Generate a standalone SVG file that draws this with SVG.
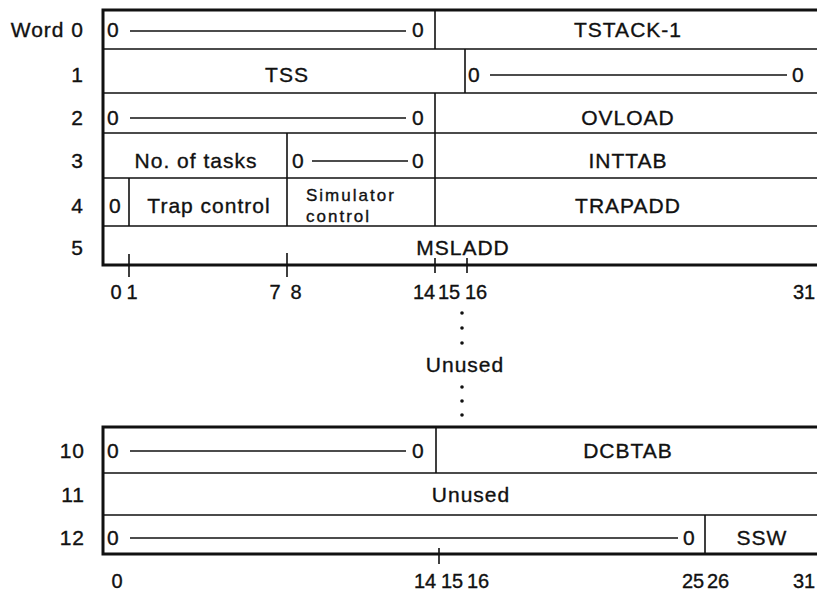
<svg xmlns="http://www.w3.org/2000/svg" width="817" height="593" viewBox="0 0 817 593">
<style>
text{font-family:"Liberation Sans",Arial,sans-serif;font-size:21px;fill:#111;stroke:#111;stroke-width:0.35;letter-spacing:1px}
.m{text-anchor:middle}
.e{text-anchor:end}
.n{font-size:20px;letter-spacing:0;text-anchor:middle}
.sm{font-size:17px;letter-spacing:2px}
.b{fill:none;stroke:#111;stroke-width:3}
.l{stroke:#111;stroke-width:1.6;fill:none}
.d{stroke:#111;stroke-width:1.4}
.dot{fill:#111}
</style>
<rect width="817" height="593" fill="#fff"/>
<g id="labels">
<text class="e" x="84" y="37">Word 0</text>
<text class="e" x="84" y="82">1</text>
<text class="e" x="84" y="125">2</text>
<text class="e" x="84" y="168">3</text>
<text class="e" x="84" y="213">4</text>
<text class="e" x="84" y="255">5</text>
<text class="e" x="85" y="458">10</text>
<text class="e" x="85" y="502">11</text>
<text class="e" x="85" y="545">12</text>
</g>
<g id="frame-top">
<path class="b" d="M817 10H103V265H817"/>
<path class="l" d="M103 49H817M103 93H817M103 133H817M103 178H817M103 226H817"/>
<path class="l" d="M435 10V49M465 49V93M435 93V133M287 133V226M435 133V226M129 178V226"/>
</g>
<g id="word0">
<text x="107" y="37">0</text><line class="d" x1="130" y1="31" x2="406" y2="31"/><text x="412" y="37">0</text>
<text class="m" x="628" y="37">TSTACK-1</text>
</g>
<g id="word1">
<text class="m" x="287" y="82">TSS</text>
<text x="468" y="82">0</text><line class="d" x1="490" y1="75" x2="787" y2="75"/><text x="792" y="82">0</text>
</g>
<g id="word2">
<text x="107" y="125">0</text><line class="d" x1="130" y1="118" x2="406" y2="118"/><text x="412" y="125">0</text>
<text class="m" x="628" y="125">OVLOAD</text>
</g>
<g id="word3">
<text class="m" x="196" y="168">No. of tasks</text>
<text x="292" y="168">0</text><line class="d" x1="312" y1="161" x2="408" y2="161"/><text x="412" y="168">0</text>
<text class="m" x="628" y="168">INTTAB</text>
</g>
<g id="word4">
<text x="109" y="213">0</text>
<text class="m" x="209" y="213">Trap control</text>
<text class="sm" x="306" y="201">Simulator</text>
<text class="sm" x="306" y="222">control</text>
<text class="m" x="628" y="213">TRAPADD</text>
</g>
<g id="word5">
<text class="m" x="463" y="255">MSLADD</text>
</g>
<g id="scale-top">
<path class="l" d="M129 254V277M287 253V277M435 258V273M467 258V273"/>
<text class="n" x="116" y="299">0</text><text class="n" x="132" y="299">1</text>
<text class="n" x="275" y="299">7</text><text class="n" x="296" y="299">8</text>
<text class="n" x="424" y="299">14</text><text class="n" x="449" y="299">15</text><text class="n" x="476" y="299">16</text>
<text class="n" x="804" y="299">31</text>
</g>
<g id="gap">
<circle class="dot" cx="462" cy="313" r="1.8"/>
<circle class="dot" cx="462" cy="328" r="1.8"/>
<circle class="dot" cx="462" cy="343" r="1.8"/>
<text class="m" x="465" y="372">Unused</text>
<circle class="dot" cx="462" cy="387" r="1.8"/>
<circle class="dot" cx="462" cy="401" r="1.8"/>
<circle class="dot" cx="462" cy="415" r="1.8"/>
</g>
<g id="frame-bottom">
<path class="b" d="M817 427H103V554H817"/>
<path class="l" d="M103 473H817M103 515H817"/>
<path class="l" d="M436 427V473M705 515V554"/>
</g>
<g id="word10">
<text x="107" y="458">0</text><line class="d" x1="130" y1="451" x2="406" y2="451"/><text x="412" y="458">0</text>
<text class="m" x="628" y="458">DCBTAB</text>
</g>
<g id="word11">
<text class="m" x="471" y="502">Unused</text>
</g>
<g id="word12">
<text x="107" y="545">0</text><line class="d" x1="130" y1="538" x2="678" y2="538"/><text x="683" y="545">0</text>
<text class="m" x="762" y="545">SSW</text>
</g>
<g id="scale-bottom">
<path class="l" d="M439 548V564"/>
<text class="n" x="117" y="588">0</text>
<text class="n" x="425" y="588">14</text><text class="n" x="452" y="588">15</text><text class="n" x="478" y="588">16</text>
<text class="n" x="693" y="588">25</text><text class="n" x="718" y="588">26</text>
<text class="n" x="804" y="588">31</text>
</g>
</svg>
